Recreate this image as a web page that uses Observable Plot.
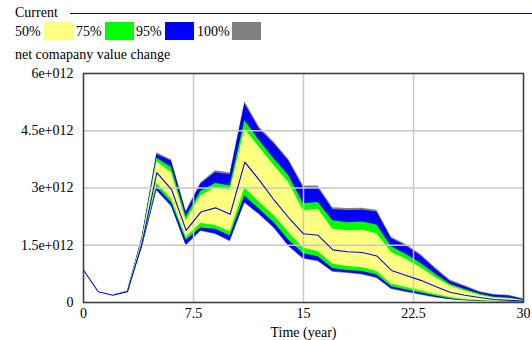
<!DOCTYPE html>
<html>
<head>
<meta charset="utf-8">
<script src="https://cdn.jsdelivr.net/npm/d3@7"></script>
<script src="https://cdn.jsdelivr.net/npm/@observablehq/plot@0.6"></script>
<style>
  html, body { margin: 0; padding: 0; background: #fff; }
  body { width: 532px; height: 340px; position: relative; overflow: hidden; font-family: "Liberation Serif", "Times New Roman", serif; font-size: 14px; color: #000; }
  #legend { position: relative; width: 532px; height: 62px; }
  .t { position: absolute; white-space: nowrap; line-height: 14px; }
  .sw { position: absolute; width: 29px; height: 18px; }
  #curline { position: absolute; left: 70px; width: 462px; top: 13px; height: 1px; background: #0000ff; }
</style>
</head>
<body>
<div id="legend"></div>
<div id="chart"></div>
<script>
// Time (year)
const time = d3.range(0, 31);
// values in units of 1e12
const current = [0.85,0.28,0.19,0.28,1.56,3.40,2.96,1.89,2.37,2.48,2.31,3.68,3.20,2.68,2.22,1.80,1.76,1.38,1.33,1.31,1.22,0.84,0.71,0.58,0.42,0.27,0.19,0.13,0.08,0.06,0.04];
const hi100 = [0.85,0.28,0.19,0.30,1.72,3.92,3.74,2.40,3.14,3.45,3.39,5.26,4.59,4.20,3.75,3.05,3.05,2.48,2.46,2.47,2.42,1.71,1.52,1.26,0.91,0.59,0.44,0.29,0.21,0.19,0.10];
const hi95  = [0.85,0.28,0.19,0.29,1.70,3.88,3.70,2.36,3.10,3.40,3.35,5.20,4.54,4.15,3.70,3.00,3.00,2.43,2.41,2.42,2.37,1.67,1.48,1.22,0.87,0.55,0.41,0.26,0.19,0.17,0.08];
const hi75  = [0.85,0.28,0.19,0.285,1.66,3.78,3.54,2.24,2.91,3.12,3.06,4.76,4.24,3.76,3.32,2.59,2.62,2.14,2.09,2.11,2.03,1.46,1.26,1.02,0.74,0.48,0.34,0.22,0.14,0.12,0.06];
const hi50  = [0.85,0.28,0.19,0.28,1.63,3.69,3.40,2.14,2.79,3.01,2.94,4.54,4.06,3.58,3.14,2.40,2.44,1.92,1.88,1.89,1.80,1.31,1.13,0.91,0.65,0.43,0.30,0.19,0.12,0.10,0.05];
const lo50  = [0.85,0.28,0.19,0.275,1.50,3.12,2.71,1.70,2.07,2.02,1.85,3.00,2.62,2.27,1.83,1.42,1.33,1.00,0.94,0.91,0.81,0.48,0.39,0.30,0.21,0.13,0.08,0.05,0.03,0.03,0.02];
const lo75  = [0.85,0.28,0.19,0.27,1.47,3.02,2.62,1.63,1.95,1.92,1.74,2.79,2.44,2.09,1.63,1.28,1.20,0.89,0.84,0.81,0.72,0.41,0.33,0.25,0.17,0.10,0.06,0.04,0.025,0.02,0.01];
const lo95  = [0.85,0.28,0.19,0.265,1.44,2.94,2.53,1.50,1.88,1.80,1.61,2.62,2.31,1.96,1.48,1.15,1.09,0.81,0.78,0.74,0.65,0.36,0.28,0.21,0.14,0.08,0.05,0.03,0.02,0.015,0.005];
const lo100 = [0.85,0.28,0.19,0.26,1.42,2.92,2.51,1.48,1.86,1.78,1.59,2.60,2.29,1.94,1.46,1.13,1.07,0.79,0.76,0.72,0.63,0.34,0.26,0.19,0.12,0.07,0.04,0.02,0.01,0.01,0.0];

const xTicks = [0, 7.5, 15, 22.5, 30];
const yTicks = [0, 1.5e12, 3e12, 4.5e12, 6e12];
const yTickLabels = ["0", "1.5e+012", "3e+012", "4.5e+012", "6e+012"];
const bandLabels = ["50%", "75%", "95%", "100%"];
const bandColors = ["#ffff80", "#00ff00", "#0000ff", "#808080"];
const yTitle = "net comapany value change";
const xTitle = "Time (year)";

const E = 1e12;
const table = time.map((t, i) => ({
  t,
  current: current[i] * E,
  hi100: hi100[i] * E, lo100: lo100[i] * E,
  hi95: hi95[i] * E, lo95: lo95[i] * E,
  hi75: hi75[i] * E, lo75: lo75[i] * E,
  hi50: hi50[i] * E, lo50: lo50[i] * E
}));

// Legend (HTML)
const leg = document.getElementById("legend");
function addText(txt, left, top) {
  const s = document.createElement("div");
  s.className = "t"; s.textContent = txt;
  s.style.left = left + "px"; s.style.top = top + "px";
  leg.appendChild(s);
}
addText("Current", 15, 6);
const cl = document.createElement("div"); cl.id = "curline"; leg.appendChild(cl);
const labelX = [15, 76, 136, 197];
const swX = [44, 105, 165, 232];
bandLabels.forEach((l, i) => {
  addText(l, labelX[i], 25);
  const sw = document.createElement("div");
  sw.className = "sw"; sw.style.left = swX[i] + "px"; sw.style.top = "22px";
  sw.style.background = bandColors[i];
  leg.appendChild(sw);
});
addText(yTitle, 15, 48);

const chart = Plot.plot({
  width: 532,
  height: 278,
  marginLeft: 83,
  marginRight: 9,
  marginTop: 11,
  marginBottom: 38,
  style: { fontFamily: "Liberation Serif, Times New Roman, serif", fontSize: "14px", color: "#000", background: "#fff" },
  x: { domain: [0, 30] },
  y: { domain: [0, 6e12] },
  marks: [
    Plot.areaY(table, { x: "t", y1: "lo100", y2: "hi100", fill: bandColors[3] }),
    Plot.areaY(table, { x: "t", y1: "lo95", y2: "hi95", fill: bandColors[2] }),
    Plot.areaY(table, { x: "t", y1: "lo75", y2: "hi75", fill: bandColors[1] }),
    Plot.areaY(table, { x: "t", y1: "lo50", y2: "hi50", fill: bandColors[0] }),
    Plot.gridX(xTicks, { stroke: "#c8c8c8", strokeOpacity: 1, strokeWidth: 1.5 }),
    Plot.gridY(yTicks, { stroke: "#c8c8c8", strokeOpacity: 1, strokeWidth: 1.5 }),
    Plot.lineY(table, { x: "t", y: "current", stroke: "#0000ff", strokeWidth: 1.1 }),
    Plot.frame({ stroke: "#404040", strokeWidth: 1.5 }),
    Plot.axisY(yTicks, { tickSize: 0, tickPadding: 10, tickFormat: (d) => yTickLabels[yTicks.indexOf(d)], label: null, fontSize: 14 }),
    Plot.axisX(xTicks, { tickSize: 0, tickPadding: 6, tickFormat: d => String(d), label: xTitle, labelAnchor: "center", labelArrow: "none", labelOffset: 34, fontSize: 14 })
  ]
});
document.getElementById("chart").appendChild(chart);
</script>
</body>
</html>
